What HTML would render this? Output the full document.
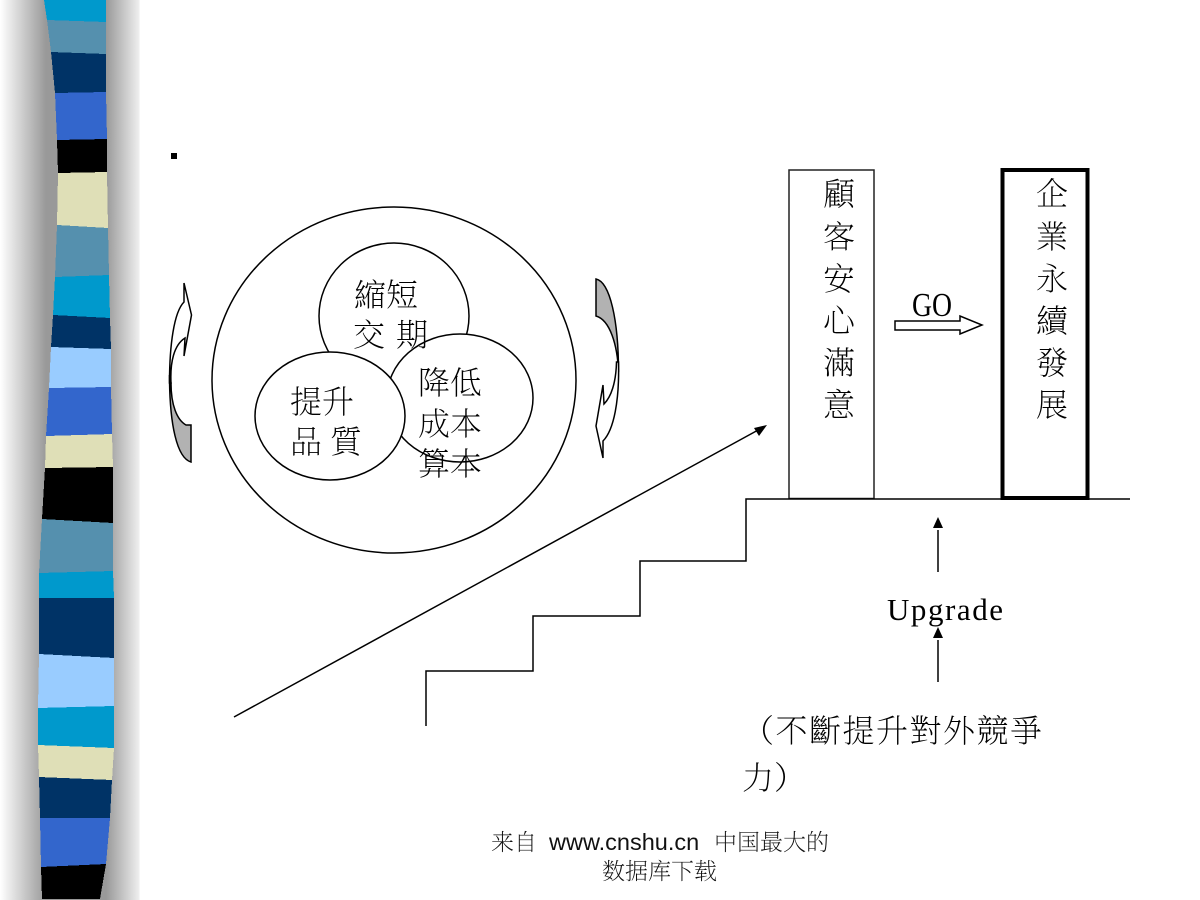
<!DOCTYPE html>
<html><head><meta charset="utf-8"><style>
html,body{margin:0;padding:0;background:#fff}
#p{position:relative;width:1200px;height:900px;overflow:hidden;background:#fff}
#bg{position:absolute;left:0;top:0;width:140px;height:900px;background:linear-gradient(to right,#fff 0,#999 46px,#999 106px,#eee 139px,#fff 140px)}
svg{position:absolute;left:0;top:0}
.c{font-family:"Liberation Serif","Noto Serif CJK TC","Noto Serif CJK SC",serif;font-size:32px;font-weight:200;fill:#000}
.f{font-family:"Noto Serif CJK SC",serif;font-size:23px;font-weight:200;fill:#111}
.l{font-family:"Liberation Sans",sans-serif;font-size:23.500px;fill:#111}
</style></head><body><div id="p"><div id="bg"></div>
<svg width="1200" height="900" viewBox="0 0 1200 900">
<g shape-rendering="crispEdges">
<polygon fill="#0099cc" points="44,0 106,0 106,22 47,20"/>
<polygon fill="#5590ae" points="47,20 106,22 106,54 51,52"/>
<polygon fill="#003366" points="51,52 106,54 106,92 55,93"/>
<polygon fill="#3366cc" points="55,93 106,92 107,139 57,140"/>
<polygon fill="#000000" points="57,140 107,139 107,172 58,173"/>
<polygon fill="#dfdfb7" points="58,173 107,172 108,228 57,225"/>
<polygon fill="#5590ae" points="57,225 108,228 109,275 55,277"/>
<polygon fill="#0099cc" points="55,277 109,275 110,318 53,315"/>
<polygon fill="#003366" points="53,315 110,318 111,349 51,347"/>
<polygon fill="#99ccff" points="51,347 111,349 111,387 49,388"/>
<polygon fill="#3366cc" points="49,388 111,387 112,434 46,436"/>
<polygon fill="#dfdfb7" points="46,436 112,434 113,467 45,468"/>
<polygon fill="#000000" points="45,468 113,467 113,523 42,519"/>
<polygon fill="#5590ae" points="42,519 113,523 113,571 39,573"/>
<polygon fill="#0099cc" points="39,573 113,571 114,598 39,598"/>
<polygon fill="#003366" points="39,598 114,598 114,658 39,654"/>
<polygon fill="#99ccff" points="39,654 114,658 114,706 38,708"/>
<polygon fill="#0099cc" points="38,708 114,706 114,748 38,745"/>
<polygon fill="#dfdfb7" points="38,745 114,748 112,780 39,777"/>
<polygon fill="#003366" points="39,777 112,780 110,818 40,818"/>
<polygon fill="#3366cc" points="40,818 110,818 106,864 41,867"/>
<polygon fill="#000000" points="41,867 106,864 100,899 42,899"/>
</g>
<rect x="171" y="153" width="6" height="6" fill="#000"/>
<g fill="#fff" stroke="#000" stroke-width="1.5">
<ellipse cx="394" cy="380" rx="182" ry="173"/>
<ellipse cx="394" cy="316" rx="75" ry="73"/>
<ellipse cx="460" cy="398" rx="73" ry="64"/>
<ellipse cx="330" cy="416" rx="75" ry="64"/>
<path fill="#b2b2b2" d="M169.5,375 C169.5,425 177,458 191,462 L191,425 L186,425 C177,420 171,405 171,383 Z"/>
<path d="M184,283 L191.5,315 L184,356 L185,338 C174,345 170,362 171,383 L169.5,383 C169.5,345 174,312 184,302 Z"/>
<path fill="#b2b2b2" d="M596,279 C610,282 618.500,320 618.500,372 C617.500,345 610,320 596,316 Z"/>
<path d="M618.500,362 C619.500,400 614,430 603,441 L603,458 L596,426 L603,385 L604,404 C611,397 616,383 616.500,362 Z"/>
<path d="M895,321 L960,321 L960,316 L982,325 L960,334 L960,330 L895,330 Z"/>
<rect x="789" y="170" width="85" height="328.500" fill="#fff" stroke="#222" stroke-width="1.500"/>
<rect x="1002.500" y="170" width="85" height="328" stroke-width="4"/>
</g>
<g fill="none" stroke="#000" stroke-width="1.500">
<polyline points="426,726 426,671 533,671 533,616 640,616 640,561 746,561 746,499 1130,499"/>
<line x1="234" y1="717" x2="760" y2="429"/>
<line x1="938" y1="572" x2="938" y2="530"/>
<line x1="938" y1="682" x2="938" y2="640"/>
</g>
<polygon points="767,425 754,428 759,436"/>
<polygon points="938,517 933,528 943,528"/>
<polygon points="938,627 933,638 943,638"/>
<g class="c">
<text x="354" y="306">縮短</text>
<text x="353" y="346">交</text><text x="396" y="346">期</text>
<text x="418" y="394">降低</text>
<text x="418" y="435">成本</text>
<text x="418" y="475">算本</text>
<text x="290" y="413">提升</text>
<text x="290" y="453">品</text><text x="330" y="453">質</text>
<text x="823" y="205">顧</text>
<text x="823" y="248">客</text>
<text x="823" y="290">安</text>
<text x="823" y="332">心</text>
<text x="823" y="374">滿</text>
<text x="823" y="416">意</text>
<text x="1036" y="205">企</text>
<text x="1036" y="248">業</text>
<text x="1036" y="290">永</text>
<text x="1036" y="332">續</text>
<text x="1036" y="374">發</text>
<text x="1036" y="416">展</text>
<text x="742" y="742" textLength="300" lengthAdjust="spacing">（不斷提升對外競爭</text>
<text x="742" y="789">力）</text>
</g>
<text x="912" y="316" font-family="Liberation Serif" font-size="34" textLength="40" lengthAdjust="spacingAndGlyphs">GO</text>
<text x="887" y="620" font-family="Liberation Serif" font-size="31" textLength="116" lengthAdjust="spacing">Upgrade</text>
<text class="f" x="491" y="850">来自</text>
<text class="l" x="549" y="850">www.cnshu.cn</text>
<text class="f" x="714" y="850">中国最大的</text>
<text class="f" x="602" y="879">数据库下载</text>
</svg></div></body></html>
